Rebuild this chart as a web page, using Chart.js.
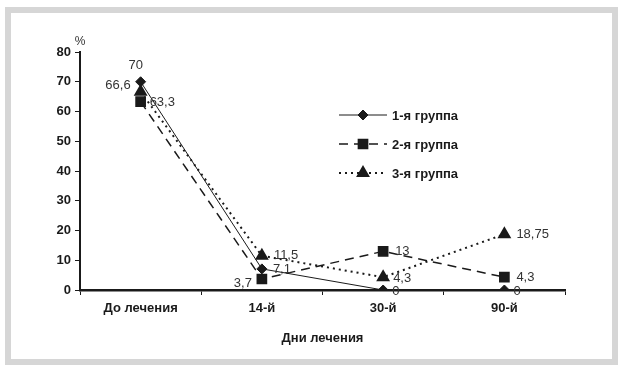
<!DOCTYPE html>
<html>
<head>
<meta charset="utf-8">
<script src="https://cdn.jsdelivr.net/npm/chart.js@4.4.0/dist/chart.umd.min.js"></script>
<style>
  body { margin: 0; background: #fff; }
  #frame {
    position: absolute; left: 5px; top: 7px; width: 601px; height: 346px;
    border: 6px solid #d6d6d6; background: #fff;
  }
  #wrap { position: absolute; left: 0; top: 0; width: 625px; height: 372px; }
</style>
</head>
<body>
<div id="frame"></div>
<div id="wrap"><canvas id="myChart" width="625" height="372"></canvas></div>
<script>
// Data
const days = ["До лечения", "14-й", "30-й", "90-й"];
const group1 = [70, 7.1, 0, 0];
const group2 = [63.3, 3.7, 13, 4.3];
const group3 = [66.6, 11.5, 4.3, 18.75];
const groupNames = ["1-я группа", "2-я группа", "3-я группа"];
const valueLabels = [
  ["70", "7,1", "0", "0"],
  ["63,3", "3,7", "13", "4,3"],
  ["66,6", "11,5", "4,3", "18,75"],
];

// where each value label sits relative to its point: [dx, dy, align]
const labelPos = [
  [[-5, -16, "center"], [11, 1, "left"], [9, 1, "left"], [9, 1, "left"]],
  [[9, 1, "left"], [-10, 4, "right"], [12, 0, "left"], [12, 0, "left"]],
  [[-10, -6, "right"], [12, 0, "left"], [10, 1, "left"], [12, 0, "left"]],
];

const ink = "#1a1a1a";

const valueLabelPlugin = {
  id: "valueLabels",
  afterDatasetsDraw(chart) {
    const c = chart.ctx;
    c.save();
    c.font = "13px 'Liberation Sans', Arial, sans-serif";
    c.fillStyle = "#333";
    c.textBaseline = "middle";
    chart.data.datasets.forEach((ds, i) => {
      const meta = chart.getDatasetMeta(i);
      meta.data.forEach((pt, j) => {
        const p = labelPos[i][j];
        c.textAlign = p[2];
        c.fillText(valueLabels[i][j], pt.x + p[0], pt.y + p[1]);
      });
    });
    c.restore();
  },
};

const sideLegendPlugin = {
  id: "sideLegend",
  afterDraw(chart) {
    const c = chart.ctx;
    c.save();
    // percent sign above the y axis
    c.font = "12px 'Liberation Sans', Arial, sans-serif";
    c.fillStyle = "#333";
    c.textAlign = "center";
    c.textBaseline = "middle";
    c.fillText("%", chart.chartArea.left, 42);

    const x0 = 339, x1 = 387, rows = [115, 144, 173];
    chart.data.datasets.forEach((ds, i) => {
      const y = rows[i];
      c.strokeStyle = ds.borderColor;
      c.lineWidth = ds.borderWidth;
      c.setLineDash(ds.borderDash || []);
      c.beginPath();
      c.moveTo(x0, y);
      c.lineTo(x1, y);
      c.stroke();
      c.setLineDash([]);
      Chart.helpers.drawPoint(c, {
        pointStyle: ds.pointStyle,
        radius: ds.pointRadius,
        borderWidth: 1,
        rotation: 0,
      }, (x0 + x1) / 2, y);
      c.fillStyle = ds.pointBackgroundColor;
      c.fill();
      c.font = "bold 13px 'Liberation Sans', Arial, sans-serif";
      c.fillStyle = ink;
      c.textAlign = "left";
      c.fillText(groupNames[i], 392, y + 1);
    });
    c.restore();
  },
};

const ctx = document.getElementById("myChart").getContext("2d");

new Chart(ctx, {
  type: "line",
  data: {
    labels: days,
    datasets: [
      {
        label: groupNames[0],
        data: group1,
        borderColor: ink,
        borderWidth: 1,
        pointStyle: "rectRot",
        pointRadius: 5,
        pointBackgroundColor: ink,
        pointBorderColor: ink,
        tension: 0,
      },
      {
        label: groupNames[1],
        data: group2,
        borderColor: ink,
        borderWidth: 1.5,
        borderDash: [9, 6],
        pointStyle: "rect",
        pointRadius: 6.5,
        pointBackgroundColor: ink,
        pointBorderColor: ink,
        tension: 0,
      },
      {
        label: groupNames[2],
        data: group3,
        borderColor: ink,
        borderWidth: 2,
        borderDash: [2, 4],
        pointStyle: "triangle",
        pointRadius: 6,
        pointBackgroundColor: ink,
        pointBorderColor: ink,
        tension: 0,
      },
    ],
  },
  options: {
    responsive: false,
    animation: false,
    layout: { padding: { top: 52, right: 60, bottom: 0, left: 0 } },
    plugins: {
      legend: { display: false },
      tooltip: { enabled: false },
    },
    scales: {
      y: {
        min: 0,
        max: 80,
        afterFit(scale) { scale.width = 80; },
        ticks: {
          stepSize: 10,
          color: ink,
          padding: 4,
          font: { family: "'Liberation Sans', Arial, sans-serif", size: 13, weight: "bold" },
        },
        grid: { drawOnChartArea: false, drawTicks: true, tickLength: 5, color: ink },
        border: { color: ink, width: 2 },
      },
      x: {
        offset: true,
        afterFit(scale) { scale.height = 82; },
        ticks: {
          color: ink,
          padding: 6,
          font: { family: "'Liberation Sans', Arial, sans-serif", size: 13, weight: "bold" },
        },
        grid: { offset: true, drawOnChartArea: false, drawTicks: true, tickLength: 5, color: ink },
        border: { color: ink, width: 2.5 },
        title: {
          display: true,
          text: "Дни лечения",
          color: ink,
          padding: { top: 0, bottom: 26 },
          font: { family: "'Liberation Sans', Arial, sans-serif", size: 13, weight: "bold" },
        },
      },
    },
  },
  plugins: [valueLabelPlugin, sideLegendPlugin],
});
</script>
</body>
</html>
